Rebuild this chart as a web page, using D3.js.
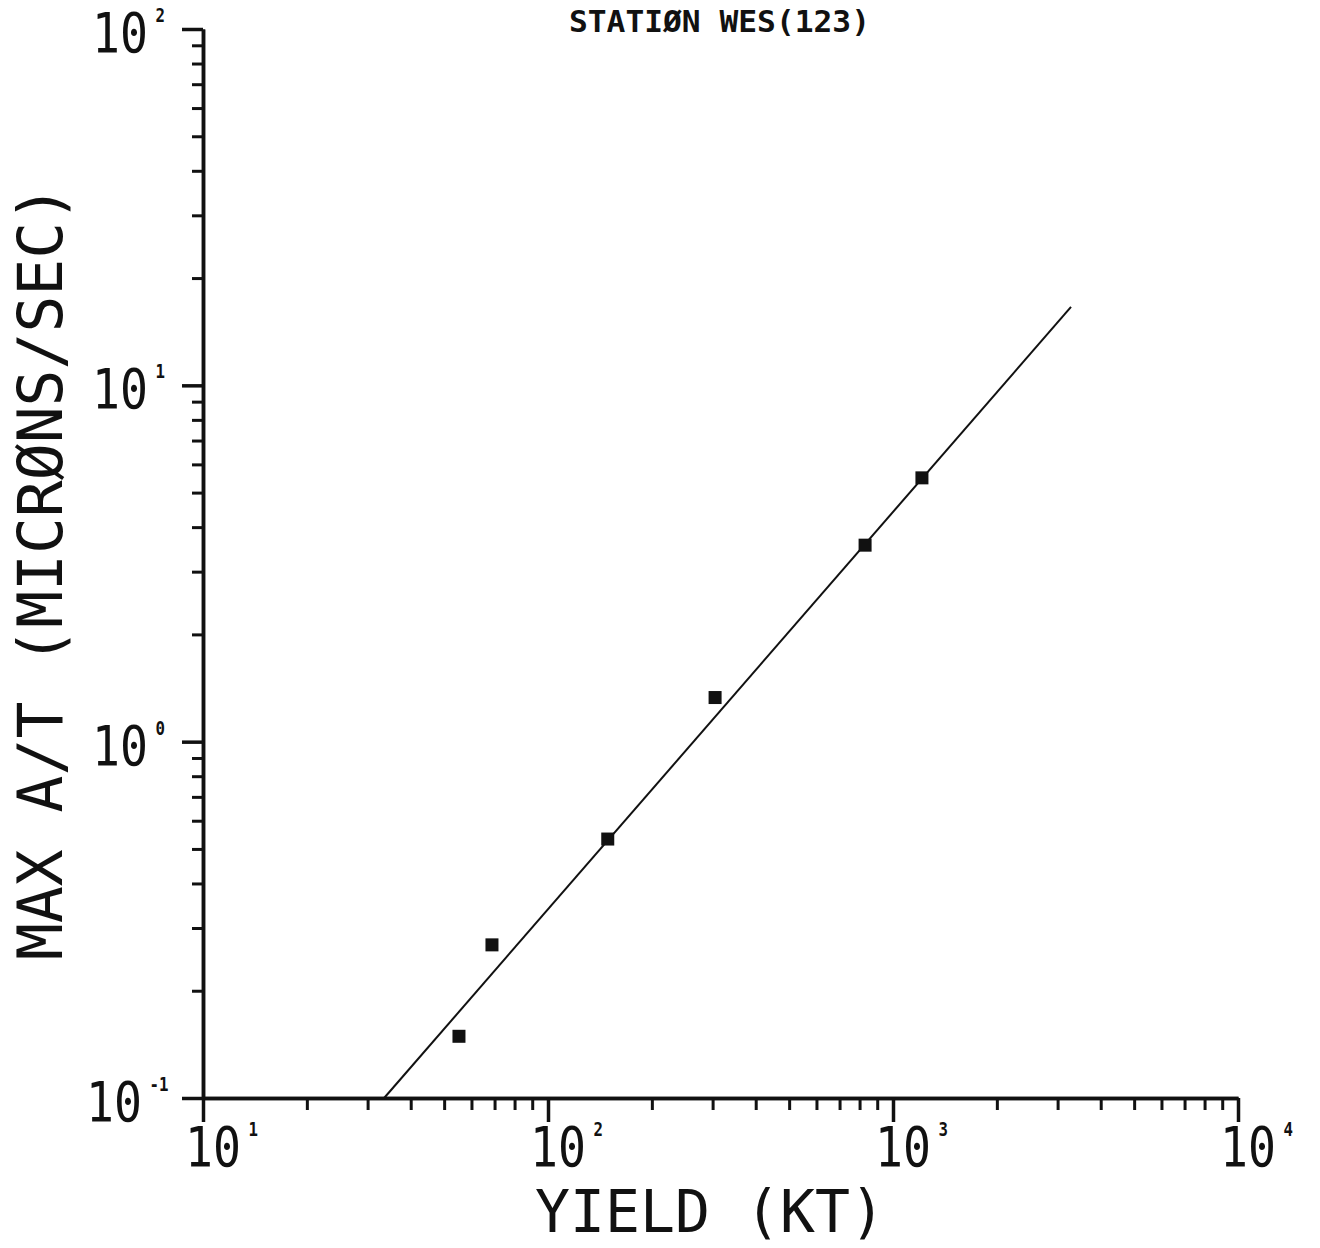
<!DOCTYPE html>
<html>
<head>
<meta charset="utf-8">
<script src="https://cdn.jsdelivr.net/npm/d3@7"></script>
<style>
  html, body { margin: 0; padding: 0; background: #ffffff; }
  svg { display: block; }
</style>
</head>
<body>
<script>
// ---- data ----
const yieldKT   = [55.2, 68.8, 149, 305, 830, 1213];
const maxAT     = [0.149, 0.269, 0.533, 1.33, 3.56, 5.5];
const fitYield  = [33.5, 3281];
const fitAT     = [0.1, 16.6];
const xMajorTicks = [10, 100, 1000, 10000];
const xTickExps   = ["1", "2", "3", "4"];
const yMajorTicks = [0.1, 1, 10, 100];
const yTickExps   = ["-1", "0", "1", "2"];
const titleText  = "STATIØN WES(123)";
const xAxisTitle = "YIELD (KT)";
const yAxisTitle = "MAX A/T (MICRØNS/SEC)";

const W = 1320, H = 1248;
const plot = { left: 203, right: 1238, top: 29, bottom: 1098 };

const svg = d3.select("body").append("svg")
  .attr("width", W).attr("height", H)
  .attr("viewBox", `0 0 ${W} ${H}`);
svg.append("rect").attr("width", W).attr("height", H).attr("fill", "#ffffff");

const x = d3.scaleLog().domain([10, 10000]).range([plot.left, plot.right]);
const y = d3.scaleLog().domain([0.1, 100]).range([plot.bottom, plot.top]);

const ink = "#111";
const mono = "'DejaVu Sans Mono', 'Liberation Mono', monospace";

// minor ticks
const xMinor = x.ticks().filter(v => !xMajorTicks.some(m => Math.abs(m - v) < 1e-9));
const yMinor = y.ticks().filter(v => !yMajorTicks.some(m => Math.abs(m - v) < 1e-9));

function styleAxis(g, w) {
  g.selectAll(".domain").attr("stroke", ink).attr("stroke-width", 3.5);
  g.selectAll(".tick line").attr("stroke", ink).attr("stroke-width", w);
  g.selectAll(".tick text").remove();
}

// X axis
svg.append("g").attr("transform", `translate(0,${plot.bottom})`)
  .call(d3.axisBottom(x).tickValues(xMinor).tickSize(12).tickSizeOuter(0))
  .call(g => styleAxis(g, 3));
svg.append("g").attr("transform", `translate(0,${plot.bottom})`)
  .call(d3.axisBottom(x).tickValues(xMajorTicks).tickSize(24).tickSizeOuter(0))
  .call(g => styleAxis(g, 3.5));

// Y axis
svg.append("g").attr("transform", `translate(${plot.left},0)`)
  .call(d3.axisLeft(y).tickValues(yMinor).tickSize(11).tickSizeOuter(0))
  .call(g => styleAxis(g, 3));
svg.append("g").attr("transform", `translate(${plot.left},0)`)
  .call(d3.axisLeft(y).tickValues(yMajorTicks).tickSize(21).tickSizeOuter(0))
  .call(g => styleAxis(g, 3.5));

// tick labels: "10" + raised exponent in one text element, horizontally condensed
const digitSize = 56;
const sx = 0.83;
function powerLabel(px, py, exp) {
  const t = svg.append("text")
    .attr("transform", `translate(${px},${py}) scale(${sx},1)`)
    .attr("font-family", mono).attr("font-size", digitSize)
    .attr("fill", ink);
  t.append("tspan").text("10");
  t.append("tspan")
    .attr("dx", 9).attr("dy", -30)
    .attr("font-size", 19).attr("font-weight", "bold")
    .text(exp);
}
xMajorTicks.forEach((v, i) => powerLabel(x(v) - 18, 1166, xTickExps[i]));
yMajorTicks.forEach((v, i) => {
  const shift = yTickExps[i].length > 1 ? 6 : 0;
  powerLabel(92 - shift, y(v) + 23, yTickExps[i]);
});

// fit line
const line = d3.line().x(d => x(d[0])).y(d => y(d[1]));
svg.append("path")
  .datum(fitYield.map((v, i) => [v, fitAT[i]]))
  .attr("d", line)
  .attr("fill", "none").attr("stroke", ink).attr("stroke-width", 2);

// data markers
const s = 13;
svg.append("g").selectAll("rect")
  .data(yieldKT.map((v, i) => [v, maxAT[i]]))
  .join("rect")
  .attr("x", d => x(d[0]) - s / 2).attr("y", d => y(d[1]) - s / 2)
  .attr("width", s).attr("height", s)
  .attr("fill", ink);

// title
svg.append("text")
  .attr("x", 569).attr("y", 32)
  .attr("font-family", mono).attr("font-size", 31).attr("font-weight", "bold")
  .attr("textLength", 301).attr("lengthAdjust", "spacingAndGlyphs")
  .attr("fill", ink).text(titleText);

// axis titles
svg.append("text")
  .attr("transform", "translate(535,1232) scale(1,1.1)")
  .attr("font-family", mono).attr("font-size", 54)
  .attr("textLength", 350).attr("lengthAdjust", "spacingAndGlyphs")
  .attr("fill", ink).text(xAxisTitle);

svg.append("text")
  .attr("transform", "translate(62,960) rotate(-90)")
  .attr("font-family", mono).attr("font-size", 62)
  .attr("textLength", 775).attr("lengthAdjust", "spacingAndGlyphs")
  .attr("fill", ink).text(yAxisTitle);
</script>
</body>
</html>
